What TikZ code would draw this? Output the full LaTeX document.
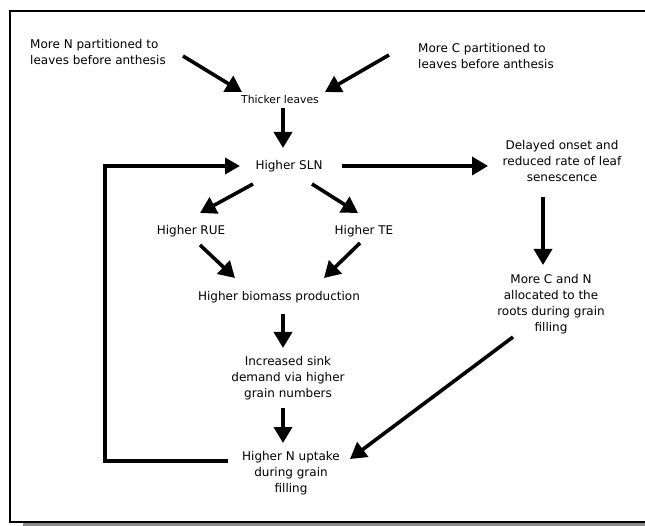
\documentclass[tikz,border=0pt]{standalone}
\usepackage{fontspec}
\setmainfont{DejaVu Sans}
\usetikzlibrary{arrows.meta,calc}
\begin{document}
\begin{tikzpicture}[x=1pt,y=-1pt,
  lbl/.style={align=center,font=\fontsize{12}{16}\selectfont,inner sep=0pt},
  lbll/.style={lbl,align=left},
  small/.style={align=center,font=\fontsize{10.8}{12}\selectfont,inner sep=0pt},
  arr/.style={line width=3.6pt,-{Triangle[length=16pt,width=18pt]}},
  loop/.style={line width=3.6pt,line join=miter,-{Triangle[length=15pt,width=16pt]}},
  frame/.style={line width=2.5pt},
  shadow/.style={fill=black!45}]
\useasboundingbox (0,0) rectangle (645,526);
\fill[shadow] (23,522) rectangle (700,528);
\draw[frame,fill=white] (10,11) rectangle (700,522);

\node[lbll] (nN) at (98,52) {More N partitioned to\\leaves before anthesis};
\node[lbll] (nC) at (486,56) {More C partitioned to\\leaves before anthesis};
\node[small] (thick) at (280,99) {Thicker leaves};
\node[lbl] (sln) at (289,166) {Higher SLN};
\node[lbl] (del) at (562,161) {Delayed onset and\\reduced rate of leaf\\senescence};
\node[lbl] (rue) at (191,231) {Higher RUE};
\node[lbl] (te) at (364,231) {Higher TE};
\node[lbl] (bio) at (279,297) {Higher biomass production};
\node[lbl] (mcn) at (551,304) {More C and N\\allocated to the\\roots during grain\\filling};
\node[lbl] (inc) at (288,378) {Increased sink\\demand via higher\\grain numbers};
\node[lbl] (upt) at (291,473) {Higher N uptake\\during grain\\filling};

\draw[arr] ($(nN)+(85,4)$) -- ($(thick)+(-38,-7)$);
\draw[arr] ($(nC)+(-97,-1)$) -- ($(thick)+(45,-7)$);
\draw[arr] ($(thick)+(3,9)$) -- ($(sln)+(-6,-18)$);
\draw[arr] ($(sln)+(53,0)$) -- ($(del)+(-74,5)$);
\draw[arr] ($(sln)+(-36,18)$) -- ($(rue)+(9,-18)$);
\draw[arr] ($(sln)+(23,18)$) -- ($(te)+(-6,-18)$);
\draw[arr] ($(rue)+(9,14)$) -- ($(bio)+(-44,-19)$);
\draw[arr] ($(te)+(-4,12)$) -- ($(bio)+(45,-19)$);
\draw[arr] ($(bio)+(4,17)$) -- ($(inc)+(-5,-30)$);
\draw[arr] ($(inc)+(-5,30)$) -- ($(upt)+(-8,-30)$);
\draw[arr] ($(del)+(-19,36)$) -- ($(mcn)+(-8,-39)$);
\draw[arr] ($(mcn)+(-38,33)$) -- ($(upt)+(59,-14)$);
\draw[loop] ($(upt)+(-63,-12)$) -| ($(sln)+(-184,0)$) -- ($(sln)+(-49,0)$);
\end{tikzpicture}
\end{document}
